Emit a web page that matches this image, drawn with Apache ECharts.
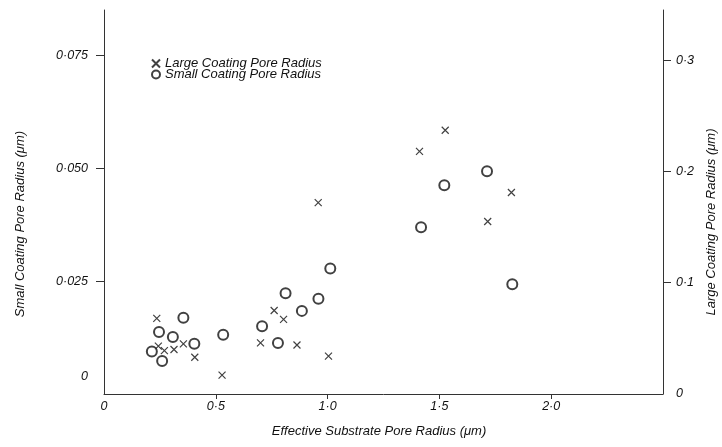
<!DOCTYPE html>
<html>
<head>
<meta charset="utf-8">
<script src="https://cdn.jsdelivr.net/npm/echarts@6/dist/echarts.min.js"></script>
<style>html,body{margin:0;padding:0;background:#fff}#c{width:722px;height:447px}</style>
</head>
<body>
<div id="c"></div>
<script>
// Large coating pore radius (crosses, right axis)
var largeX = [0.236, 0.243, 0.270, 0.313, 0.355, 0.406, 0.528, 0.700, 0.761, 0.803, 0.863, 1.004, 0.958, 1.411, 1.526, 1.716, 1.822];
var largeY = [0.068, 0.043, 0.039, 0.040, 0.045, 0.033, 0.017, 0.046, 0.075, 0.067, 0.044, 0.034, 0.172, 0.218, 0.237, 0.155, 0.181];
// Small coating pore radius (circles, left axis)
var smallX = [0.214, 0.246, 0.260, 0.308, 0.355, 0.404, 0.533, 0.707, 0.778, 0.812, 0.885, 0.959, 1.012, 1.418, 1.522, 1.713, 1.826];
var smallY = [0.0094, 0.0137, 0.0073, 0.0126, 0.0169, 0.0111, 0.0131, 0.0150, 0.0113, 0.0223, 0.0184, 0.0211, 0.0278, 0.0369, 0.0462, 0.0493, 0.0243];

var xTickValues = [0, 0.5, 1.0, 1.5, 2.0];
var xTickLabels = ['0', '0·5', '1·0', '1·5', '2·0'];
var leftTickValues = [0, 0.025, 0.05, 0.075];
var leftTickLabels = ['0', '0·025', '0·050', '0·075'];
var rightTickValues = [0, 0.1, 0.2, 0.3];
var rightTickLabels = ['0', '0·1', '0·2', '0·3'];

var seriesNames = ['Large Coating Pore Radius', 'Small Coating Pore Radius'];
var xName = 'Effective Substrate Pore Radius (μm)';
var leftName = 'Small Coating Pore Radius (μm)';
var rightName = 'Large Coating Pore Radius (μm)';

function lookup(vals, labels) {
  return function (v) {
    for (var i = 0; i < vals.length; i++) if (Math.abs(vals[i] - v) < 1e-9) return labels[i];
    return '';
  };
}
function pairs(xs, ys) { return xs.map(function (x, i) { return [x, ys[i]]; }); }

var FONT = 'Liberation Sans';
var ink = '#111';
var FS = 12.5;
var crossPath = 'path://M0,0L10,10M10,0L0,10';
var lblStyle = { fontFamily: FONT, fontStyle: 'italic', fontSize: FS, color: ink };

var leftFmt = lookup(leftTickValues, leftTickLabels);

var chart = echarts.init(document.getElementById('c'), null, { renderer: 'canvas' });
chart.setOption({
  animation: false,
  backgroundColor: '#fff',
  grid: { left: 104, right: 59, top: 10, bottom: 53, containLabel: false, outerBoundsMode: 'none' },
  legend: {
    orient: 'vertical', left: 146, top: 52, itemGap: -2, itemWidth: 8, itemHeight: 8,
    textStyle: { fontFamily: FONT, fontStyle: 'italic', fontSize: 13, color: ink },
    data: seriesNames
  },
  xAxis: {
    type: 'value', min: 0, max: 2.5, interval: 0.5,
    name: xName, nameLocation: 'middle', nameGap: 31,
    nameTextStyle: { fontFamily: FONT, fontStyle: 'italic', fontSize: 13, color: ink, padding: [0, 9, 0, 0] },
    axisLine: { show: true, lineStyle: { color: '#333', width: 1 } },
    axisTick: { show: true, inside: false, length: 5, customValues: [0.5, 1.0, 1.5, 2.0], lineStyle: { color: '#333' } },
    axisLabel: Object.assign({ margin: 6, customValues: xTickValues, formatter: lookup(xTickValues, xTickLabels) }, lblStyle),
    splitLine: { show: false }
  },
  yAxis: [{
    type: 'value', position: 'left', min: 0, max: 0.085, interval: 0.025,
    name: leftName, nameLocation: 'middle', nameGap: 77, nameRotate: 90,
    nameTextStyle: { fontFamily: FONT, fontStyle: 'italic', fontSize: 13, color: ink, padding: [0, 44, 0, 0] },
    axisLine: { show: true, lineStyle: { color: '#333', width: 1 } },
    axisTick: { show: true, inside: false, length: 8, customValues: [0.025, 0.05, 0.075], lineStyle: { color: '#333' } },
    axisLabel: Object.assign({
      margin: 16, customValues: leftTickValues,
      formatter: function (v) { var t = leftFmt(v); return Math.abs(v) < 1e-9 ? '{z|' + t + '}' : t; },
      rich: { z: { fontFamily: FONT, fontStyle: 'italic', fontSize: FS, color: ink, padding: [0, 0, 34, 0] } }
    }, lblStyle),
    splitLine: { show: false }
  }, {
    type: 'value', position: 'right', min: 0, max: 0.345, interval: 0.1,
    name: rightName, nameLocation: 'middle', nameGap: 40, nameRotate: 90,
    nameTextStyle: { fontFamily: FONT, fontStyle: 'italic', fontSize: 13, color: ink, padding: [0, 40, 0, 0] },
    axisLine: { show: true, lineStyle: { color: '#333', width: 1 } },
    axisTick: { show: true, inside: false, length: 8, customValues: [0.1, 0.2, 0.3], lineStyle: { color: '#333' } },
    axisLabel: Object.assign({ margin: 13, customValues: rightTickValues, formatter: lookup(rightTickValues, rightTickLabels) }, lblStyle),
    splitLine: { show: false }
  }],
  series: [{
    name: seriesNames[0], type: 'scatter', yAxisIndex: 1,
    symbol: crossPath, symbolSize: 7,
    itemStyle: { color: 'transparent', borderColor: '#111', borderWidth: 1.2 },
    data: pairs(largeX, largeY)
  }, {
    name: seriesNames[1], type: 'scatter', yAxisIndex: 0,
    symbol: 'emptyCircle', symbolSize: 10,
    itemStyle: { color: '#111', borderWidth: 1 },
    data: pairs(smallX, smallY)
  }]
});
</script>
</body>
</html>
